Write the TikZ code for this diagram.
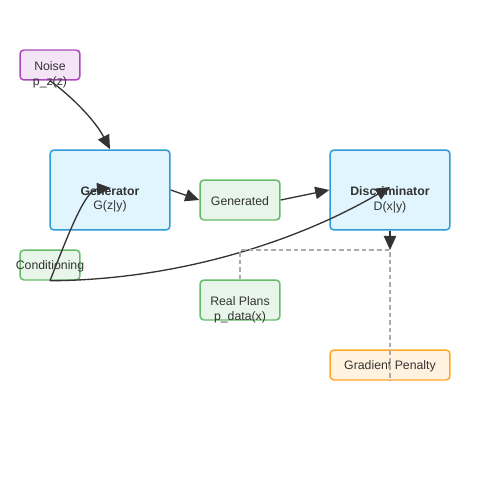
\documentclass[tikz,border=0pt]{standalone}
\usepackage{fontspec}
\setmainfont{Liberation Sans}
\usetikzlibrary{arrows.meta,calc}

\definecolor{txtcolor}{HTML}{333333}
\definecolor{noiseline}{HTML}{AB47BC}
\definecolor{noisefill}{HTML}{F3E5F5}
\definecolor{netline}{HTML}{2E9BD9}
\definecolor{netfill}{HTML}{E1F5FE}
\definecolor{dataline}{HTML}{66BB6A}
\definecolor{datafill}{HTML}{E8F5E9}
\definecolor{gpline}{HTML}{FFA726}
\definecolor{gpfill}{HTML}{FFF3E0}

\begin{document}
\begin{tikzpicture}[%
        % one unit is one pixel of the 500x500 picture, y downwards
        x=0.02cm,y=-0.02cm,
        font=\fontsize{7}{8.5}\selectfont,
        box/.style={draw,rounded corners=2.3pt,line width=0.85pt,inner sep=0pt},
        small/.style={box,minimum width=1.2cm,minimum height=0.6cm},
        mid/.style={box,minimum width=1.6cm,minimum height=0.8cm},
        big/.style={box,minimum width=2.4cm,minimum height=1.6cm},
        wide/.style={box,minimum width=2.4cm,minimum height=0.6cm},
        lbl/.style={text=txtcolor,align=center,inner sep=0pt},
        flow/.style={draw=txtcolor,line width=0.75pt,-{Triangle[length=8pt,width=7pt]}},
        link/.style={draw=black!33,line width=0.75pt,dash pattern=on 2.6pt off 1.7pt}
        ]

        \useasboundingbox (0,0) rectangle (500,500);

        % boxes
        \node[small,draw=noiseline,fill=noisefill] (noise) at (50,65) {};
        \node[big,draw=netline,fill=netfill] (gen) at (110,190) {};
        \node[mid,draw=dataline,fill=datafill] (generated) at (240,200) {};
        \node[big,draw=netline,fill=netfill] (disc) at (390,190) {};
        \node[small,draw=dataline,fill=datafill] (cond) at (50,265) {};
        \node[mid,draw=dataline,fill=datafill] (real) at (240,300) {};
        \node[wide,draw=gpline,fill=gpfill] (gp) at (390,365) {};

        % labels (set a little below the box centre)
        \node[lbl] (noisetxt) at ($(noise)+(0,9.5)$) {Noise\\p\_z(z)};
        \node[lbl] (gentxt) at ($(gen)+(0,9.5)$) {\textbf{Generator}\\G(z|y)};
        \node[lbl] (generatedtxt) at ($(generated)+(0,1)$) {Generated};
        \node[lbl] (disctxt) at ($(disc)+(0,9.5)$) {\textbf{Discriminator}\\D(x|y)};
        \node[lbl] (condtxt) at ($(cond)+(0,1)$) {Conditioning};
        \node[lbl] (realtxt) at ($(real)+(0,9.5)$) {Real Plans\\p\_data(x)};
        \node[lbl] (gptxt) at ($(gp)+(0,1)$) {Gradient Penalty};

        \coordinate (join) at (disc.south |- 0,250);
        \coordinate (genin) at ($(gen)+(1,-2)$);
        \coordinate (discin) at ($(disc)+(0,-3)$);

        % connectors
        \draw[flow] (noise.south) .. controls (70,95) and (95,120) .. (gen.north);
        \draw[flow] (gen.east) -- (generated.west);
        \draw[flow] (generated.east) -- (disc.west);
        \draw[flow] (cond.south) .. controls (68,235) and (85,190) .. (genin);
        \draw[flow] (cond.south) .. controls (180,280) and (300,240) .. (discin);
        \draw[flow] (disc.south) -- (join);
        \draw[link] (real.north) |- (join) -- (gp.south);

    \end{tikzpicture}
\end{document}
